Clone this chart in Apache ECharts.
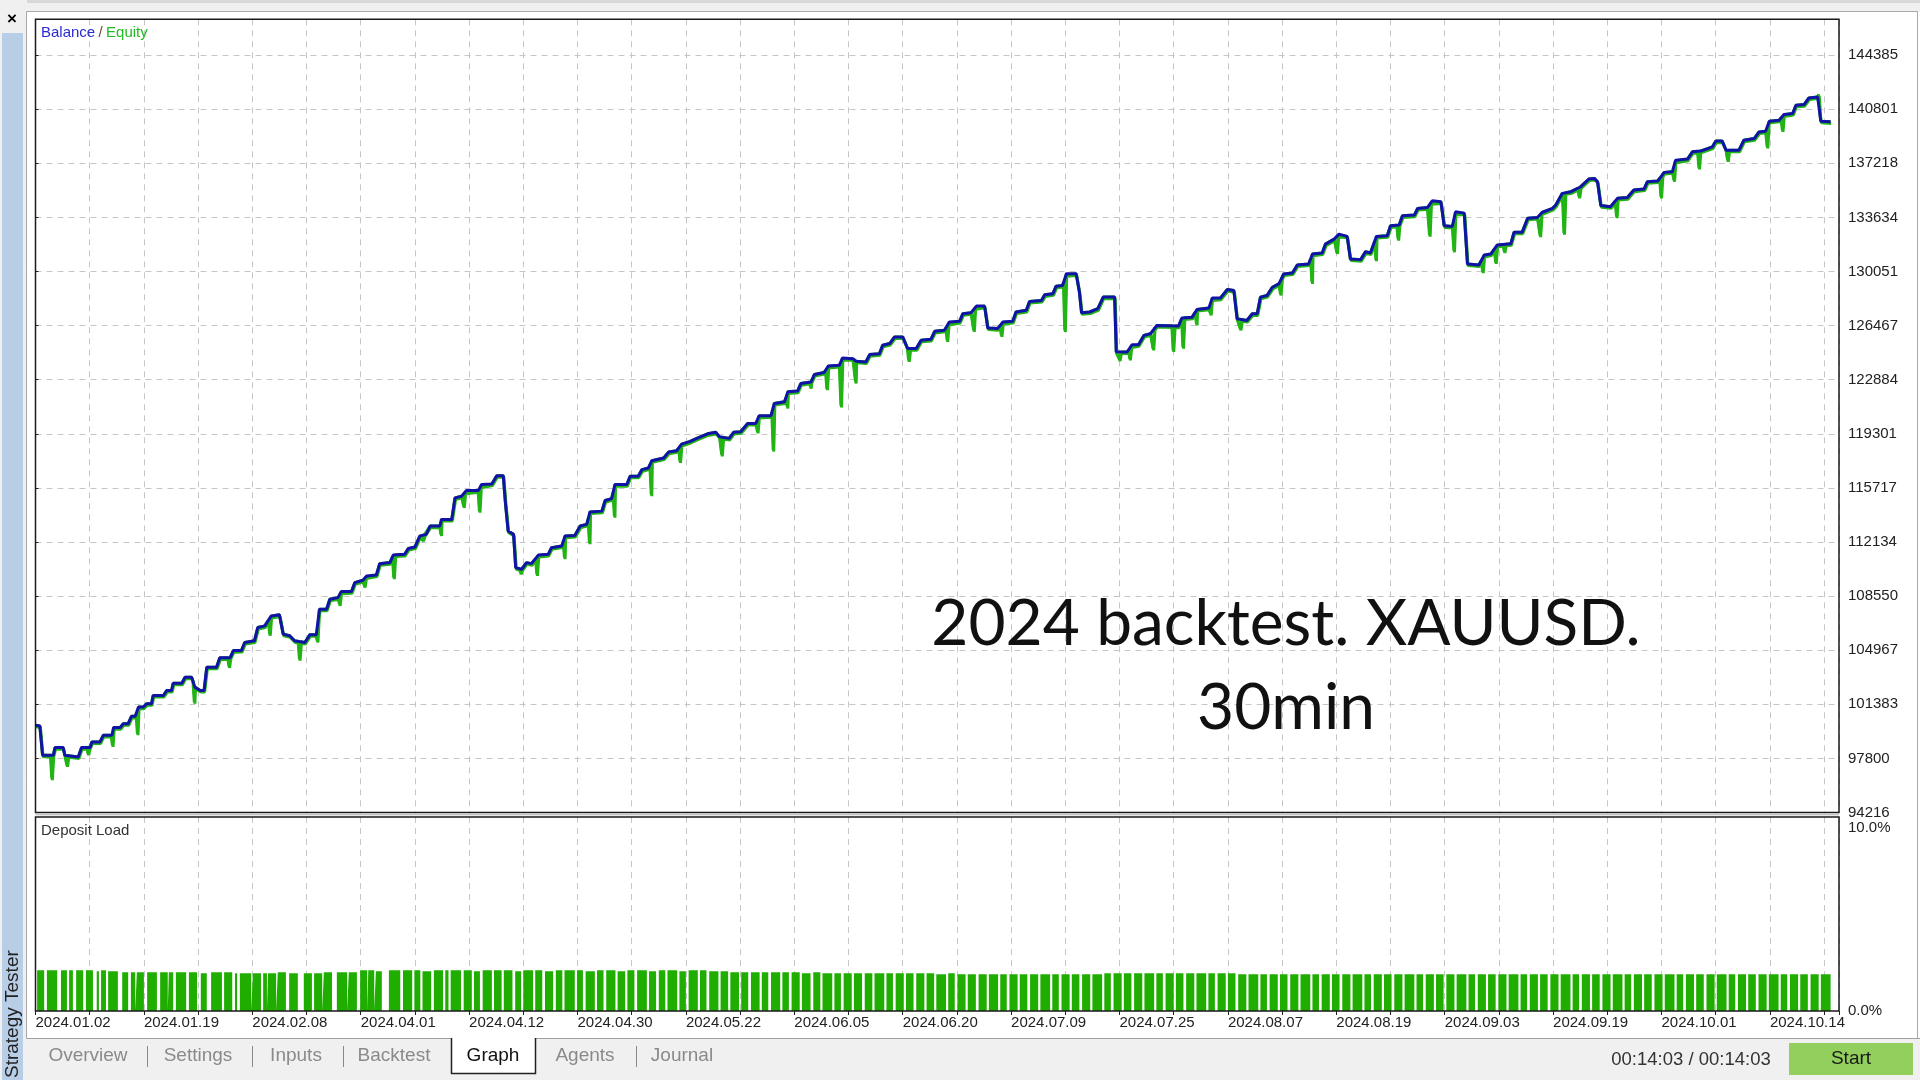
<!DOCTYPE html>
<html><head><meta charset="utf-8">
<script src="https://cdn.jsdelivr.net/npm/echarts@6/dist/echarts.min.js"></script>
<style>html,body{margin:0;padding:0;background:#fff;overflow:hidden}#c{width:1920px;height:1080px}</style>
</head><body><div id="c"></div>
<script>
// ---- DATA ----
const dateLabels = ['2024.01.02','2024.01.19','2024.02.08','2024.04.01','2024.04.12','2024.04.30','2024.05.22','2024.06.05','2024.06.20','2024.07.09','2024.07.25','2024.08.07','2024.08.19','2024.09.03','2024.09.19','2024.10.01','2024.10.14'];
const yTickLabels = ['94216','97800','101383','104967','108550','112134','115717','119301','122884','126467','130051','133634','137218','140801','144385'];
const loadTickLabels = ['0.0%','10.0%'];
// balance: [trade position, balance]
const balance = [
[0.00,100000],[0.08,99950],[0.13,98010],[0.33,98010],[0.36,98520],[0.51,98520],[0.54,98010],[0.79,97900],[0.85,98520],[1.01,98520],
[1.04,98890],[1.19,98890],[1.25,99330],[1.41,99330],[1.44,99840],[1.56,99840],[1.62,100100],[1.71,100100],[1.77,100590],[1.84,100590],
[1.90,101200],[1.99,101200],[2.05,101420],[2.14,101420],[2.17,101970],[2.36,101970],[2.42,102300],[2.51,102300],[2.54,102780],[2.70,102780],
[2.76,103180],[2.88,103180],[2.94,102520],[3.04,102300],[3.11,102300],[3.16,103840],[3.34,103840],[3.40,104460],[3.59,104460],[3.65,104940],
[3.80,104950],[3.86,105480],[4.04,105590],[4.10,106470],[4.23,106580],[4.35,107240],[4.50,107310],[4.57,106030],[4.69,105920],[4.78,105590],
[4.97,105480],[5.06,105990],[5.18,105990],[5.24,107680],[5.37,107680],[5.43,108340],[5.58,108450],[5.64,108850],[5.83,108850],[5.89,109440],
[6.04,109600],[6.11,109880],[6.29,109950],[6.35,110700],[6.54,110770],[6.60,111270],[6.81,111320],[6.88,111710],[7.00,111800],[7.09,112530],
[7.21,112640],[7.28,113190],[7.46,113190],[7.49,113630],[7.68,113630],[7.74,115060],[7.86,115170],[7.95,115540],[8.17,115540],[8.23,115940],
[8.42,115980],[8.51,116530],[8.63,116530],[8.67,114730],[8.72,112860],[8.82,112640],[8.86,110440],[8.97,110330],[9.06,110770],[9.15,110700],
[9.28,111270],[9.46,111320],[9.52,111760],[9.71,111870],[9.77,112530],[9.95,112570],[10.05,113190],[10.17,113300],[10.23,114130],[10.45,114180],
[10.51,114880],[10.63,115010],[10.69,115940],[10.91,115940],[10.97,116490],[11.12,116490],[11.19,116930],[11.31,117040],[11.37,117520],[11.59,117700],
[11.68,118090],[11.83,118180],[11.92,118620],[12.08,118800],[12.20,119000],[12.40,119300],[12.55,119400],[12.62,119100],[12.80,119000],[12.88,119400],
[13.01,119440],[13.14,119990],[13.29,119990],[13.35,120500],[13.57,120500],[13.63,121310],[13.82,121420],[13.88,122080],[14.06,122130],[14.12,122630],
[14.31,122740],[14.37,123230],[14.55,123360],[14.63,123800],[14.83,123840],[14.89,124330],[15.08,124280],[15.14,124110],[15.32,124060],[15.39,124550],
[15.57,124610],[15.63,125170],[15.76,125280],[15.85,125720],[16.00,125720],[16.09,124950],[16.25,124950],[16.34,125500],[16.52,125560],[16.59,126090],
[16.77,126160],[16.86,126710],[17.05,126750],[17.11,127260],[17.26,127320],[17.36,127760],[17.51,127760],[17.57,126310],[17.75,126270],[17.85,126710],
[18.03,126750],[18.09,127370],[18.28,127480],[18.34,128070],[18.56,128140],[18.62,128510],[18.77,128580],[18.83,129080],[18.95,129130],[19.02,129900],
[19.20,129900],[19.26,128690],[19.30,127320],[19.45,127370],[19.60,127590],[19.70,128360],[19.91,128360],[19.94,124730],[20.14,124720],[20.23,125200],
[20.35,125200],[20.45,125820],[20.57,125930],[20.69,126480],[21.09,126440],[21.15,126970],[21.34,127030],[21.43,127540],[21.65,127630],[21.71,128290],
[21.86,128290],[21.99,128860],[22.11,128790],[22.17,126920],[22.35,126810],[22.45,127250],[22.54,127250],[22.60,128350],[22.72,128460],[22.82,129010],
[22.94,129230],[23.03,129890],[23.19,129960],[23.28,130490],[23.49,130550],[23.56,131210],[23.74,131280],[23.80,131870],[23.96,132200],[24.05,132530],
[24.20,132380],[24.26,130880],[24.45,130840],[24.54,131370],[24.63,131280],[24.74,132380],[24.94,132420],[25.00,133080],[25.16,133130],[25.22,133740],
[25.44,133790],[25.50,134230],[25.68,134290],[25.77,134740],[25.93,134670],[25.99,133080],[26.14,133040],[26.20,134010],[26.36,133920],[26.42,130550],
[26.63,130490],[26.73,131150],[26.85,131210],[26.97,131810],[27.22,131890],[27.28,132660],[27.43,132660],[27.53,133580],[27.71,133630],[27.80,133980],
[27.99,134240],[28.05,134460],[28.17,135230],[28.33,135340],[28.51,135670],[28.66,136180],[28.76,136220],[28.82,136000],[28.88,134420],[29.06,134350],
[29.19,134900],[29.37,134950],[29.49,135450],[29.68,135520],[29.74,136000],[29.93,136050],[30.05,136620],[30.20,136660],[30.26,137430],[30.48,137500],
[30.57,137980],[30.72,138030],[30.94,138310],[31.00,138690],[31.12,138690],[31.19,138090],[31.43,138090],[31.52,138750],[31.71,138860],[31.80,139300],
[31.92,139350],[31.99,140010],[32.17,140080],[32.26,140450],[32.42,140520],[32.48,141070],[32.63,141110],[32.72,141550],[32.88,141620],[32.94,140010],
[33.12,139970]
];
// floating-loss dips of equity below balance: [trade position, equity]
const equityDips = [
[0.30,96470],[0.58,97350],[0.97,98120],[1.42,98670],[1.88,99440],[2.93,101530],[3.57,103900],
[4.32,106030],[4.87,104380],[5.20,105590],[5.61,108010],[6.07,109220],[6.61,109780],[7.15,112310],[7.48,112640],[7.90,114510],[8.19,114180],
[8.95,110110],[9.25,110000],[9.76,111100],[10.22,112090],[10.68,113850],[11.36,115280],[11.89,117480],[12.66,117920],
[13.32,119440],[13.61,118230],[13.87,121090],[14.30,122410],[14.60,122300],[14.86,121160],[15.13,122740],[16.11,124170],[16.82,125500],
[17.31,126160],[17.82,125830],[18.99,126160],[20.00,124240],[20.19,124280],[20.62,124940],[20.99,124830],[21.17,125050],[21.42,126590],
[21.68,127250],[22.23,126260],[22.97,128570],[23.55,129340],[24.01,131320],[24.73,130840],[25.14,132200],[25.72,132470],[26.17,131430],
[26.70,130050],[26.94,130660],[27.10,131380],[27.76,132440],[28.20,132590],[28.48,135010],[29.17,133690],[29.99,135010],[30.23,136110],
[30.69,136930],[31.22,137430],[31.95,138310],[32.23,139410],[32.90,141770]
];
// deposit load blocks: [start, end, load %]
const loadBlocks = [
[0.03,0.16,2.1],[0.21,0.40,2.1],[0.47,0.58,2.1],[0.62,0.69,2.1],[0.75,0.88,2.1],[0.93,1.06,2.1],[1.13,1.17,2.05],[1.21,1.30,2.1],[1.34,1.52,2.05],
[1.60,1.71,2.0],[1.76,1.84,2.0],[1.87,2.00,2.0],[2.06,2.24,2.0],[2.30,2.44,2.0],[2.46,2.54,2.0],[2.59,2.78,2.0],[2.83,2.98,2.0],[3.05,3.16,1.95],
[3.24,3.44,2.0],[3.48,3.63,2.0],[3.68,3.72,1.95],[3.77,3.98,1.95],[4.01,4.16,1.95],[4.20,4.27,1.95],[4.29,4.44,1.95],[4.47,4.62,2.0],[4.68,4.84,1.95],
[4.95,5.10,1.95],[5.14,5.29,1.95],[5.32,5.47,2.0],[5.56,5.75,2.0],[5.78,5.93,2.0],[5.99,6.12,2.1],[6.14,6.25,2.1],[6.28,6.39,2.05],[6.52,6.73,2.1],
[6.78,6.95,2.1],[6.99,7.10,2.1],[7.14,7.30,2.05],[7.35,7.52,2.1],[7.56,7.62,2.1],[7.66,7.85,2.1],[7.90,8.05,2.1],[8.09,8.20,2.05],[8.25,8.42,2.1],
[8.46,8.60,2.1],[8.64,8.80,2.1],[8.85,8.96,2.05],[9.00,9.18,2.1],[9.22,9.35,2.1],[9.40,9.55,2.05],[9.60,9.72,2.1],[9.76,9.95,2.1],[9.99,10.10,2.1],
[10.15,10.32,2.05],[10.36,10.48,2.1],[10.53,10.70,2.1],[10.74,10.88,2.05],[10.92,11.05,2.1],[11.10,11.28,2.1],[11.32,11.45,2.05],[11.50,11.62,2.1],
[11.66,11.84,2.1],[11.88,12.00,2.05],[12.05,12.22,2.1],[12.26,12.38,2.1],[12.43,12.60,2.05],[12.64,12.78,2.05],[12.82,12.98,2.0],[13.02,13.15,2.0],
[13.20,13.36,2.0],[13.40,13.52,2.0],[13.57,13.74,2.0],[13.78,13.90,2.0],[13.95,14.10,2.0],[14.14,14.30,1.95],[14.35,14.48,2.0],[14.52,14.70,1.95],
[14.74,14.86,1.95],[14.91,15.06,1.95],[15.10,15.25,1.95],[15.30,15.44,1.95],[15.48,15.66,1.95],[15.70,15.82,1.95],[15.87,16.02,1.95],[16.06,16.20,1.95],
[16.25,16.40,1.95],[16.44,16.58,1.95],[16.62,16.80,1.9],[16.84,16.96,1.95],[17.01,17.16,1.9],[17.20,17.35,1.9],[17.40,17.55,1.9],[17.59,17.76,1.9],
[17.80,17.92,1.9],[17.97,18.12,1.9],[18.16,18.30,1.9],[18.35,18.50,1.9],[18.54,18.72,1.9],[18.76,18.88,1.9],[18.93,19.08,1.9],[19.12,19.26,1.9],
[19.31,19.46,1.9],[19.50,19.68,1.9],[19.72,19.84,1.95],[19.89,20.04,1.95],[20.08,20.22,1.95],[20.27,20.42,1.95],[20.46,20.64,1.95],[20.68,20.80,1.95],
[20.85,21.00,1.95],[21.04,21.18,1.95],[21.23,21.38,1.95],[21.42,21.60,1.95],[21.64,21.76,1.95],[21.81,21.96,1.95],[22.00,22.14,1.95],[22.19,22.34,1.9],
[22.38,22.56,1.9],[22.60,22.72,1.9],[22.77,22.92,1.9],[22.96,23.10,1.9],[23.15,23.30,1.9],[23.34,23.52,1.9],[23.56,23.68,1.9],[23.73,23.88,1.9],
[23.92,24.06,1.9],[24.11,24.26,1.9],[24.30,24.48,1.9],[24.52,24.64,1.9],[24.69,24.84,1.9],[24.88,25.02,1.9],[25.07,25.22,1.9],[25.26,25.44,1.9],
[25.48,25.60,1.9],[25.65,25.80,1.9],[25.84,25.98,1.9],[26.03,26.18,1.9],[26.22,26.40,1.9],[26.44,26.56,1.9],[26.61,26.76,1.9],[26.80,26.94,1.9],
[26.99,27.14,1.9],[27.18,27.36,1.9],[27.40,27.52,1.9],[27.57,27.72,1.9],[27.76,27.90,1.9],[27.95,28.10,1.9],[28.14,28.32,1.9],[28.36,28.48,1.9],
[28.53,28.68,1.9],[28.72,28.86,1.9],[28.91,29.06,1.9],[29.10,29.28,1.9],[29.32,29.44,1.9],[29.49,29.64,1.9],[29.68,29.82,1.9],[29.87,30.02,1.9],
[30.06,30.24,1.9],[30.28,30.40,1.9],[30.45,30.60,1.9],[30.64,30.78,1.9],[30.83,30.98,1.9],[31.02,31.20,1.9],[31.24,31.36,1.9],[31.41,31.56,1.9],
[31.60,31.74,1.9],[31.79,31.94,1.9],[31.98,32.16,1.9],[32.20,32.32,1.9],[32.37,32.52,1.9],[32.56,32.70,1.9],[32.75,32.90,1.9],[32.94,33.12,1.9]
];

// ---- BUILD ----
const Y_MIN = 94216, Y_STEP = 3583.5, Y_MAX = 146760;
const X_MAX = 33.275;
// equity equals balance when flat; a dip is a short excursion away from the balance line
function balanceAt(u) {
  for (let i = 1; i < balance.length; i++) {
    if (balance[i][0] >= u) {
      const a = balance[i - 1], b = balance[i];
      return a[1] + (b[1] - a[1]) * (u - a[0]) / (b[0] - a[0]);
    }
  }
  return balance[balance.length - 1][1];
}
const DIP_HALF = 0.025;
let eqPts = balance.slice();
equityDips.forEach(d => {
  eqPts.push([d[0] - DIP_HALF, balanceAt(d[0] - DIP_HALF)]);
  eqPts.push([d[0], d[1]]);
  eqPts.push([d[0] + DIP_HALF, balanceAt(d[0] + DIP_HALF)]);
});
const equity = eqPts.sort((a, b) => a[0] - b[0]);
const loadSeries = [];
loadBlocks.forEach(b => { loadSeries.push([b[0], b[2]]); loadSeries.push([b[1], 0]); });

const FONT = "'Liberation Sans', Arial, sans-serif";
const GRID_L = 35.5, GRID_R = 1839;
const grid0 = {left: GRID_L, top: 19.3, width: GRID_R - GRID_L, height: 812.5 - 19.3};
const grid1 = {left: GRID_L, top: 817, width: GRID_R - GRID_L, height: 1011 - 817};
const dashed = {show: true, lineStyle: {color: '#c6c6c6', width: 1, type: [6, 5]}};
const C = {align: 'center', verticalAlign: 'middle', textAlign: 'center', textVerticalAlign: 'middle'};
const L = {align: 'left', verticalAlign: 'middle', textAlign: 'left', textVerticalAlign: 'middle'};
const tab = (x, t, col) => ({type: 'text', x: x, y: 1056, z: 2, style: Object.assign({text: t, font: '19px ' + FONT, fill: col}, C)});
const sep = x => ({type: 'line', shape: {x1: x, y1: 1046, x2: x, y2: 1067}, style: {stroke: '#8a8a8a', lineWidth: 1}});

const chart = echarts.init(document.getElementById('c'), null, {renderer: 'canvas'});
const gfx = [
  // window chrome
  {type: 'rect', shape: {x: 0, y: 0, width: 1920, height: 12}, style: {fill: '#f0f0f0'}, z: -5, silent: true},
  {type: 'rect', shape: {x: 0, y: 0, width: 1920, height: 3}, style: {fill: '#d8d8d8'}, z: -5, silent: true},
  {type: 'rect', shape: {x: 0, y: 0, width: 27, height: 1080}, style: {fill: '#f0f0f0'}, z: -5, silent: true},
  {type: 'rect', shape: {x: 2, y: 33, width: 21, height: 1047}, style: {fill: '#b8cde6'}, z: -4, silent: true},
  {type: 'text', x: 12, y: 19, z: 5, style: Object.assign({text: '×', font: 'bold 17px ' + FONT, fill: '#000'}, C)},
  {type: 'text', x: 12.5, y: 1078, rotation: Math.PI / 2, z: 5, style: Object.assign({text: 'Strategy Tester', font: '19px ' + FONT, fill: '#222'}, L)},
  {type: 'rect', shape: {x: 26.5, y: 11.5, width: 1891, height: 1027}, style: {fill: '#fff', stroke: '#a8a8a8', lineWidth: 1}, z: -3, silent: true},
  // tab bar
  {type: 'rect', shape: {x: 27, y: 1039, width: 1893, height: 41}, style: {fill: '#f0f0f0'}, z: -2, silent: true},
  {type: 'line', shape: {x1: 27, y1: 1038.5, x2: 1920, y2: 1038.5}, style: {stroke: '#a0a0a0', lineWidth: 1}, z: -1},
  {type: 'rect', shape: {x: 451, y: 1036, width: 85, height: 38}, style: {fill: '#fff'}, z: 0},
  {type: 'polyline', shape: {points: [[451.5, 1038], [451.5, 1073.5], [535.5, 1073.5], [535.5, 1038]]}, style: {stroke: '#222', lineWidth: 1.5, fill: null}, z: 1},
  tab(88, 'Overview', '#8a8a8a'), tab(198, 'Settings', '#8a8a8a'), tab(296, 'Inputs', '#8a8a8a'), tab(394, 'Backtest', '#8a8a8a'),
  tab(493, 'Graph', '#111'), tab(585, 'Agents', '#8a8a8a'), tab(682, 'Journal', '#8a8a8a'),
  sep(147.5), sep(252.5), sep(343.5), sep(636.5),
  {type: 'text', x: 1691, y: 1060, style: Object.assign({text: '00:14:03 / 00:14:03', font: '18.5px ' + FONT, fill: '#333'}, C)},
  {type: 'rect', shape: {x: 1789, y: 1043, width: 124, height: 32}, style: {fill: '#92cf5c'}},
  {type: 'text', x: 1851, y: 1059, style: Object.assign({text: 'Start', font: '19px ' + FONT, fill: '#1a1a1a'}, C)},
  // panel frames (drawn over grid lines)
  {type: 'rect', shape: {x: GRID_L, y: 19.3, width: GRID_R - GRID_L, height: 812.5 - 19.3}, style: {fill: null, stroke: '#1a1a1a', lineWidth: 1.5}, z: 50, silent: true},
  {type: 'rect', shape: {x: GRID_L, y: 817, width: GRID_R - GRID_L, height: 194}, style: {fill: null, stroke: '#1a1a1a', lineWidth: 1.5}, z: 50, silent: true},
  {type: 'line', shape: {x1: GRID_L, y1: 814.8, x2: GRID_R, y2: 814.8}, style: {stroke: '#b0b0b0', lineWidth: 1}, z: 50, silent: true},
  // panel titles
  {type: 'text', x: 41, y: 33, z: 10, style: Object.assign({rich: {b: {fill: '#2b2bd0', font: '15px ' + FONT}, s: {fill: '#6a4a2a', font: '15px ' + FONT}, e: {fill: '#22bb22', font: '15px ' + FONT}}, text: '{b|Balance} {s|/} {e|Equity}'}, L)},
  {type: 'text', x: 41, y: 831, z: 10, style: Object.assign({text: 'Deposit Load', font: '15px ' + FONT, fill: '#333'}, L)},
  // annotation
  {type: 'text', x: 1286, y: 624, z: 20, style: Object.assign({text: '2024 backtest. XAUUSD.', font: '400 64px Lato, sans-serif', fill: '#111'}, C)},
  {type: 'text', x: 1286, y: 708, z: 20, style: Object.assign({text: '30min', font: '400 64px Lato, sans-serif', fill: '#111'}, C)}
];

chart.setOption({
  animation: false,
  backgroundColor: 'transparent',
  graphic: {elements: gfx},
  grid: [
    Object.assign({show: true, backgroundColor: '#fff', borderWidth: 0}, grid0),
    Object.assign({show: true, backgroundColor: '#fff', borderWidth: 0}, grid1)
  ],
  xAxis: [
    {type: 'value', gridIndex: 0, min: 0, max: X_MAX, interval: 1, axisLine: {show: false}, axisTick: {show: false}, axisLabel: {show: false}, splitLine: dashed},
    {type: 'value', gridIndex: 1, min: 0, max: X_MAX, interval: 1, axisLine: {show: false},
     axisTick: {show: true, length: 4, lineStyle: {color: '#222'}},
     axisLabel: {show: true, margin: 4, align: 'left', color: '#222', fontFamily: FONT, fontSize: 15, showMinLabel: true, showMaxLabel: true,
       formatter: v => { const r = Math.round(v); return (Math.abs(v - r) < 1e-6 && r % 2 === 0 && dateLabels[r / 2]) ? dateLabels[r / 2] : ''; }},
     splitLine: dashed}
  ],
  yAxis: [
    {type: 'value', gridIndex: 0, position: 'right', min: Y_MIN, max: Y_MAX, interval: Y_STEP,
     axisLine: {show: false}, axisTick: {show: true, length: 3, lineStyle: {color: '#222'}},
     axisLabel: {margin: 9, color: '#222', fontFamily: FONT, fontSize: 15, showMinLabel: true, showMaxLabel: true,
       formatter: v => { const k = (v - Y_MIN) / Y_STEP, r = Math.round(k); return (Math.abs(k - r) < 0.01 && yTickLabels[r]) ? yTickLabels[r] : ''; }},
     splitLine: dashed},
    {type: 'value', gridIndex: 1, position: 'right', min: 0, max: 10, interval: 10,
     axisLine: {show: false}, axisTick: {show: false},
     axisLabel: {margin: 9, color: '#222', fontFamily: FONT, fontSize: 15, lineHeight: 22, showMinLabel: true, showMaxLabel: true,
       formatter: v => v >= 10 ? '\n' + loadTickLabels[1] : loadTickLabels[0]},
     splitLine: {show: false}}
  ],
  series: [
    {type: 'line', name: 'Equity', xAxisIndex: 0, yAxisIndex: 0, data: equity, showSymbol: false, symbol: 'none',
     lineStyle: {color: '#22b414', width: 3, shadowColor: '#22b414', shadowBlur: 0, shadowOffsetX: 0.6, shadowOffsetY: 1.6}, z: 3},
    {type: 'line', name: 'Balance', xAxisIndex: 0, yAxisIndex: 0, data: balance, showSymbol: false, symbol: 'none',
     lineStyle: {color: '#1212a8', width: 3}, z: 4},
    {type: 'line', name: 'Deposit Load', xAxisIndex: 1, yAxisIndex: 1, data: loadSeries, step: 'end', showSymbol: false, symbol: 'none',
     lineStyle: {width: 0}, areaStyle: {color: '#1fae00', opacity: 1, origin: 'start'}, z: 3}
  ]
});
</script></body></html>
